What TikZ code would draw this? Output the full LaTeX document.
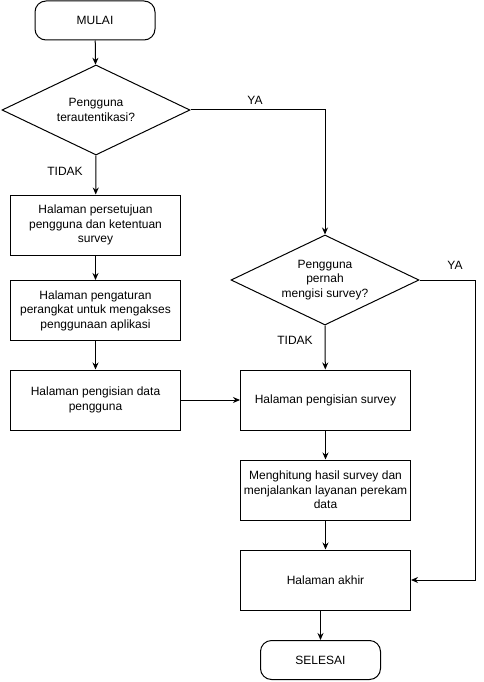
\documentclass[tikz,border=0pt]{standalone}
\usepackage{fontspec}
\setmainfont{Liberation Sans}
\usetikzlibrary{shapes.geometric, arrows.meta, positioning}

\begin{document}
\begin{tikzpicture}[
  x=1pt, y=-1pt,
  font=\fontsize{12}{14.5}\selectfont,
  kotak/.style={rectangle,draw,line width=1pt,minimum width=170pt,minimum height=60pt,inner sep=2pt,align=center},
  ujung/.style={rectangle,draw,line width=1pt,rounded corners=11pt,minimum width=120pt,minimum height=39pt,align=center},
  cek/.style={diamond,draw,line width=1pt,aspect=2.1,inner sep=0pt,minimum width=188pt,minimum height=90pt,align=center},
  alur/.style={-{Stealth[length=7pt,width=6pt]},line width=1pt},
  lbl/.style={inner sep=1pt}
]
  \useasboundingbox (0,0) rectangle (484,682);
  \node[ujung] (mulai) at (95,20.5) {MULAI};
  \node[cek] (cek1) at (96,110) {Pengguna\\terautentikasi?};
  \node[kotak] (H1) at (95.5,225) {Halaman persetujuan\\pengguna dan ketentuan\\survey};
  \node[kotak] (H2) at (95.5,310.5) {Halaman pengaturan\\perangkat untuk mengakses\\penggunaan aplikasi};
  \node[kotak] (H3) at (95.5,400) {Halaman pengisian data\\pengguna};
  \node[cek] (cek2) at (325,280) {Pengguna\\pernah\\mengisi survey?};
  \node[kotak] (H4) at (325.5,400) {Halaman pengisian survey};
  \node[kotak] (H5) at (325.5,490) {Menghitung hasil survey dan\\menjalankan layanan perekam\\data};
  \node[kotak] (H6) at (325.5,580) {Halaman akhir};
  \node[ujung] (selesai) at (320.5,660) {SELESAI};
  \coordinate (belok) at (475,280);

  \node[lbl] (tidak1) at (65,171) {TIDAK};
  \node[lbl] (ya1) at (255,100) {YA};
  \node[lbl] (tidak2) at (295,340) {TIDAK};
  \node[lbl] (ya2) at (455,265) {YA};

  \draw[alur] (mulai) -- (cek1);
  \draw[alur] (cek1.south) -- (H1);
  \draw[alur] (cek1.east) -| (cek2.north);
  \draw[alur] (H1) -- (H2);
  \draw[alur] (H2) -- (H3);
  \draw[alur] (H3.east) -- (H4.west);
  \draw[alur] (cek2.south) -- (H4);
  \draw[alur] (cek2.east) -- (belok) |- (H6.east);
  \draw[alur] (H4) -- (H5);
  \draw[alur] (H5) -- (H6);
  \draw[alur] (H6.south -| selesai) -- (selesai);
\end{tikzpicture}
\end{document}
